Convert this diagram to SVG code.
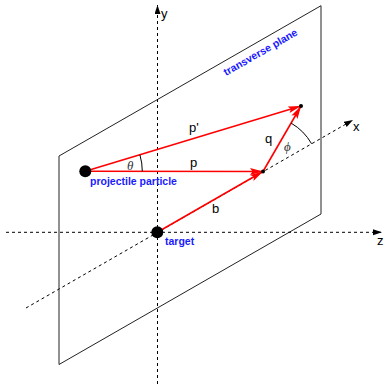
<svg xmlns="http://www.w3.org/2000/svg" width="384" height="384" viewBox="0 0 384 384">
<style>
.axis{stroke:#000;stroke-width:1;stroke-dasharray:3 3;fill:none}
.plane{stroke:#222;stroke-width:1;fill:none}
.vec{stroke:#f00;stroke-width:1.6;fill:none}
.arc{stroke:#000;stroke-width:1;fill:none}
.lbl{font-family:"Liberation Sans",Arial,sans-serif;font-size:13px;fill:#000}
.blue{font-family:"Liberation Sans",Arial,sans-serif;font-size:10.5px;font-weight:bold;fill:#1a1aff}
.greek{font-family:"Liberation Serif","Times New Roman",serif;font-style:italic;font-size:13px;fill:#333}
</style>
<defs>
<marker id="ra" markerUnits="userSpaceOnUse" markerWidth="14" markerHeight="8" refX="13" refY="3.5" orient="auto">
<path d="M0,0 L13,3.5 L0,7 L2.5,3.5 z" fill="#f00"/>
</marker>
<marker id="ka" markerUnits="userSpaceOnUse" markerWidth="10" markerHeight="8" refX="9" refY="3" orient="auto">
<path d="M0,0 L9,3 L0,6 z" fill="#000"/>
</marker>
</defs>
<g id="plane">
<polygon class="plane" points="59,156 321,5.7 321,214 59,364.5"/>
<text class="blue" transform="translate(226,76) rotate(-29.8)">transverse plane</text>
</g>
<g id="axes">
<line class="axis" x1="157.5" y1="384" x2="157.5" y2="5" marker-end="url(#ka)"/>
<line class="axis" x1="6" y1="232.3" x2="382" y2="232.3" marker-end="url(#ka)"/>
<line class="axis" x1="26" y1="308" x2="353" y2="120" marker-end="url(#ka)"/>
<text class="lbl" x="161" y="18">y</text>
<text class="lbl" x="377" y="245">z</text>
<text class="lbl" x="353" y="131">x</text>
</g>
<g id="connectors">
<line class="vec" x1="85.3" y1="171.3" x2="301" y2="106" marker-end="url(#ra)"/>
<line class="vec" x1="85.3" y1="171.3" x2="263" y2="171.5" marker-end="url(#ra)"/>
<line class="vec" x1="157.3" y1="232.3" x2="263" y2="171.5" marker-end="url(#ra)"/>
<line class="vec" x1="263" y1="171.5" x2="301" y2="106" marker-end="url(#ra)"/>
<path class="arc" d="M139.9,154.8 A57,57 0 0 1 142.3,171.3"/>
<path class="arc" d="M291.1,123.1 A56,56 0 0 1 311.6,143.8"/>
</g>
<g id="labels">
<text class="lbl" x="189" y="132">p'</text>
<text class="lbl" x="190" y="167">p</text>
<text class="lbl" x="212" y="213">b</text>
<text class="lbl" x="265" y="143">q</text>
<text class="greek" x="127" y="170">θ</text>
<text class="greek" x="284" y="151">ϕ</text>
</g>
<g id="projectile">
<circle cx="85.3" cy="171.3" r="6" fill="#000"/>
<text class="blue" x="90" y="185">projectile particle</text>
</g>
<g id="target">
<circle cx="157.3" cy="232.3" r="6" fill="#000"/>
<text class="blue" x="165" y="245">target</text>
</g>
<g id="points">
<circle cx="263" cy="171.5" r="2" fill="#000"/>
<circle cx="301" cy="106" r="2" fill="#000"/>
</g>
</svg>
